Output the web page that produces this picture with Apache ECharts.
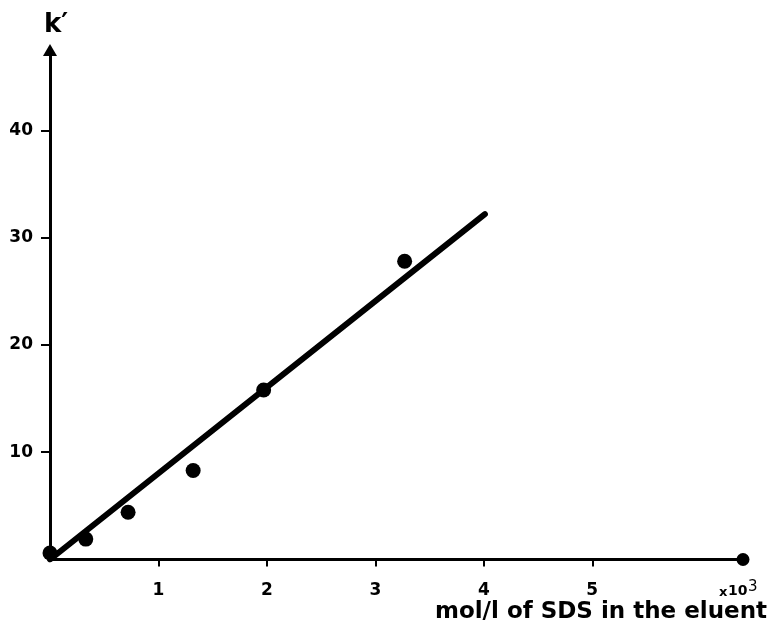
<!DOCTYPE html>
<html>
<head>
<meta charset="utf-8">
<script src="https://cdn.jsdelivr.net/npm/echarts@6/dist/echarts.min.js"></script>
<style>html,body{margin:0;padding:0;background:#fff}#c{width:770px;height:633px}</style>
</head>
<body>
<div id="c"></div>
<script>
// measured points: SDS concentration (x10^3 mol/l) vs k'
const sdsConc = [0, 0.33, 0.72, 1.32, 1.97, 3.27];
const kPrime = [0.6, 1.9, 4.4, 8.3, 15.8, 27.8];
// fitted straight line endpoints
const fitX = [0, 4.01];
const fitY = [0, 32.2];
const xTicks = [1, 2, 3, 4, 5];
const yTicks = [10, 20, 30, 40];
const xTitle = 'mol/l of SDS in the eluent';
const yTitle = 'k\u2032';

const FONT = '"DejaVu Sans", Verdana, sans-serif';
const chart = echarts.init(document.getElementById('c'), null, {renderer: 'canvas'});
chart.setOption({
  backgroundColor: '#fff',
  animation: false,
  grid: {left: 50, right: 27, top: 50, bottom: 73.5, containLabel: false},
  xAxis: {
    type: 'value', min: 0, max: 6.39, interval: 1,
    splitLine: {show: false},
    axisLine: {onZero: false, lineStyle: {color: '#000', width: 3}, symbol: ['none', 'circle'], symbolSize: [13, 13]},
    axisTick: {show: true, length: 7, inside: false, lineStyle: {color: '#000', width: 2}, customValues: xTicks},
    axisLabel: {show: true, customValues: xTicks, margin: 23, color: '#000', fontFamily: FONT, fontWeight: 'bold', fontSize: 17,
      formatter: v => (xTicks.indexOf(v) >= 0 ? String(v) : '')}
  },
  yAxis: {
    type: 'value', min: 0, max: 47.5, interval: 10,
    splitLine: {show: false},
    axisLine: {onZero: false, lineStyle: {color: '#000', width: 3}, symbol: ['none', 'triangle'], symbolSize: [14, 12]},
    axisTick: {show: true, length: 9, lineStyle: {color: '#000', width: 2}, customValues: yTicks},
    axisLabel: {show: true, customValues: yTicks, margin: 17, color: '#000', fontFamily: FONT, fontWeight: 'bold', fontSize: 17,
      formatter: v => (yTicks.indexOf(v) >= 0 ? String(v) : '')}
  },
  series: [
    {
      type: 'line', data: fitX.map((x, i) => [x, fitY[i]]),
      showSymbol: false, symbol: 'none',
      lineStyle: {color: '#000', width: 6, cap: 'round'},
      z: 3
    },
    {
      type: 'scatter', data: sdsConc.map((x, i) => [x, kPrime[i]]),
      symbol: 'circle', symbolSize: 15,
      itemStyle: {color: '#000', opacity: 1},
      z: 4
    }
  ],
  graphic: [
    {type: 'text', x: 44, y: 25, style: {text: yTitle, fill: '#000', font: 'bold 26px ' + FONT, verticalAlign: 'middle', textAlign: 'left'}},
    {type: 'text', x: 767, y: 612, style: {text: xTitle, fill: '#000', font: 'bold 23px ' + FONT, verticalAlign: 'middle', textAlign: 'right'}},
    {type: 'text', x: 719, y: 593, style: {text: 'x', fill: '#000', font: 'bold 13px ' + FONT, verticalAlign: 'middle', textAlign: 'left'}},
    {type: 'text', x: 728, y: 591, style: {text: '10', fill: '#000', font: 'bold 14px ' + FONT, verticalAlign: 'middle', textAlign: 'left'}},
    {type: 'text', x: 748, y: 587, style: {text: '3', fill: '#000', font: '15px ' + FONT, verticalAlign: 'middle', textAlign: 'left'}}
  ]
});
</script>
</body>
</html>
